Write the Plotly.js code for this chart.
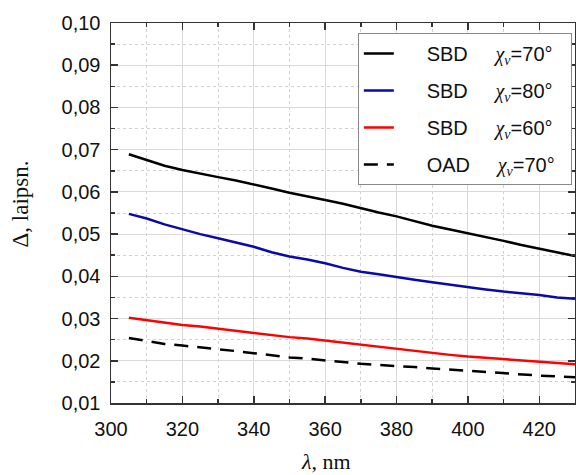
<!DOCTYPE html>
<html>
<head>
<meta charset="utf-8">
<script src="https://cdn.plot.ly/plotly-3.0.1.min.js"></script>
<style>html,body{margin:0;padding:0;background:#fff;}#chart{width:576px;height:475px;}</style>
</head>
<body>
<div id="chart"></div>
<script>
// wavelength, nm
const wavelength = [305,310,315,320,325,330,335,340,345,350,355,360,365,370,375,380,385,390,395,400,405,410,415,420,425,430];
// Delta values
const sbd70 = [0.0689,0.0676,0.0662,0.0652,0.0643,0.0635,0.0627,0.0618,0.0608,0.0598,0.0590,0.0581,0.0572,0.0561,0.0551,0.0542,0.0531,0.0520,0.0511,0.0502,0.0494,0.0484,0.0474,0.0465,0.0457,0.0448];
const sbd80 = [0.0548,0.0537,0.0523,0.0511,0.0500,0.0490,0.0480,0.0470,0.0457,0.0447,0.0440,0.0431,0.0420,0.0411,0.0405,0.0398,0.0392,0.0386,0.0380,0.0374,0.0369,0.0364,0.0360,0.0356,0.0350,0.0347];
const sbd60 = [0.0302,0.0296,0.0291,0.0285,0.0281,0.0276,0.0272,0.0267,0.0262,0.0256,0.0253,0.0248,0.0243,0.0238,0.0233,0.0228,0.0224,0.0219,0.0214,0.0210,0.0207,0.0204,0.0201,0.0198,0.0195,0.0192];
const oad70 = [0.0254,0.0247,0.0240,0.0236,0.0232,0.0228,0.0223,0.0218,0.0213,0.0208,0.0205,0.0201,0.0196,0.0193,0.0190,0.0188,0.0185,0.0182,0.0179,0.0177,0.0174,0.0170,0.0167,0.0165,0.0163,0.0161];

const seriesNames = ['SBD','SBD','SBD','OAD'];
const seriesAngles = ['70°','80°','60°','70°'];
const xTickVals = [300,320,340,360,380,400,420];
const yTickVals = [0.01,0.02,0.03,0.04,0.05,0.06,0.07,0.08,0.09,0.10];

const SANS = 'Arial, "Liberation Sans", sans-serif';
const SERIF = '"Times New Roman", "Liberation Serif", serif';

const NB = n => '&nbsp;'.repeat(n);
function legendLabel(i){
  return NB(5) + seriesNames[i] + NB(5) + '<span style="font-family:' + "'Liberation Serif'" + '"><i>χ<sub>v</sub></i></span>=' + seriesAngles[i] + NB(2);
}

const ys = [sbd70, sbd80, sbd60, oad70];
const styles = [
  {color:'#000000', width:2.5, dash:'solid'},
  {color:'#0a0aa8', width:2.5, dash:'solid'},
  {color:'#ff0000', width:2.5, dash:'solid'},
  {color:'#000000', width:2.5, dash:'14px,9px'}
];

const data = ys.map((y,i)=>({
  x: wavelength, y: y, type:'scatter', mode:'lines',
  name: legendLabel(i), legendgroup: 'g'+i,
  line: styles[i]
}));

const axisCommon = {
  showline:true, linecolor:'#333', linewidth:1.5, mirror:'allticks',
  ticks:'inside', ticklen:7, tickwidth:1.5, tickcolor:'#333',
  showgrid:true, gridcolor:'#d9d9d9', gridwidth:1, zeroline:false,
  tickfont:{family:SANS, size:20, color:'#111'}
};

const layout = {
  width:576, height:475,
  margin:{l:111, r:1, t:23, b:72},
  paper_bgcolor:'#fff', plot_bgcolor:'#fff',
  separators:', ',
  showlegend:true,
  legend:{x:0.532, y:0.974, xanchor:'left', yanchor:'top',
    bgcolor:'#fff', bordercolor:'#888', borderwidth:1,
    font:{family:SANS, size:20, color:'#111'},
    tracegroupgap:8, traceorder:'grouped'},
  xaxis: Object.assign({}, axisCommon, {
    range:[300,430], tickmode:'array', tickvals:xTickVals,
    ticktext: xTickVals.map(String), ticklabelstandoff:7,
    minor:{dtick:10, tick0:300, ticks:'inside', ticklen:4, tickcolor:'#333', showgrid:true, gridcolor:'#d0d0d0', griddash:'dot', gridwidth:1}
  }),
  yaxis: Object.assign({}, axisCommon, {
    range:[0.01,0.10], tickmode:'array', tickvals:yTickVals, tickformat:'.2f', ticklabelstandoff:5,
    minor:{dtick:0.005, tick0:0.01, ticks:'inside', ticklen:4, tickcolor:'#333', showgrid:true, gridcolor:'#d0d0d0', griddash:'dot', gridwidth:1}
  }),
  annotations:[
    {text:'Δ, laipsn.', xref:'paper', yref:'paper', x:-0.194, y:0.525, xanchor:'center', yanchor:'middle', textangle:-90, showarrow:false, font:{family:SERIF, size:23, color:'#111'}},
    {text:'<i>λ</i>, nm', xref:'paper', yref:'paper', x:0.464, y:-0.155, xanchor:'center', yanchor:'middle', showarrow:false, font:{family:SERIF, size:22, color:'#111'}}
  ]
};

Plotly.newPlot('chart', data, layout, {displayModeBar:false, staticPlot:true});
</script>
</body>
</html>
